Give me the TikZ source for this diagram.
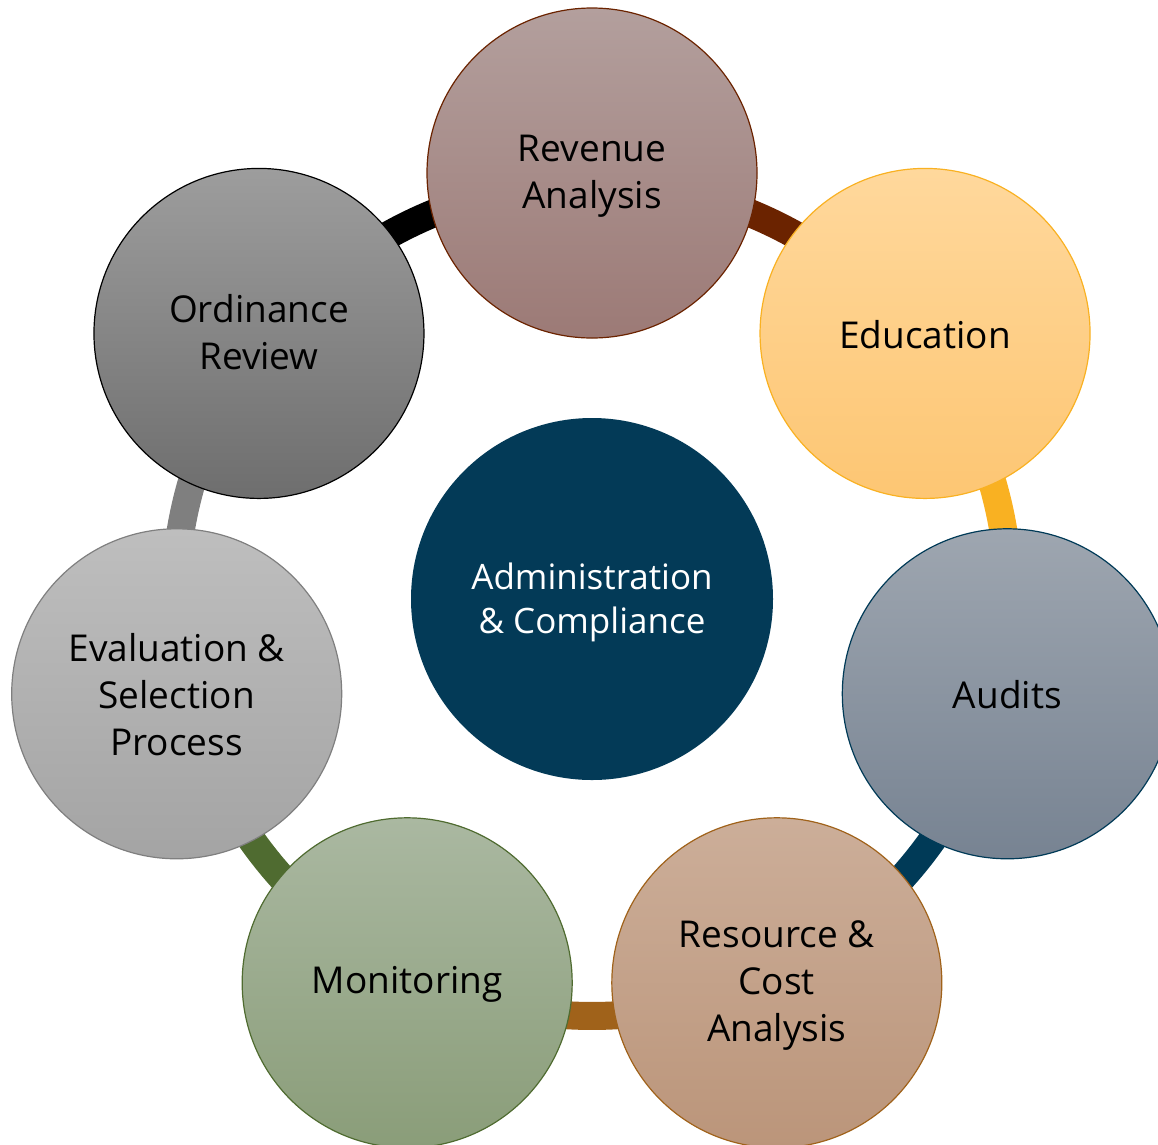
\documentclass[tikz,border=0pt]{standalone}
\usepackage{fontspec}
\setmainfont{Open Sans}
\usetikzlibrary{calc}
\definecolor{cRevA}{HTML}{B39F9D}\definecolor{cRevB}{HTML}{9C7A76}\definecolor{cRevL}{HTML}{6B2300}
\definecolor{cEduA}{HTML}{FFD89C}\definecolor{cEduB}{HTML}{FDC673}\definecolor{cEduL}{HTML}{F9B122}
\definecolor{cAudA}{HTML}{9EA6B0}\definecolor{cAudB}{HTML}{778392}\definecolor{cAudL}{HTML}{003A57}
\definecolor{cResA}{HTML}{CCAE99}\definecolor{cResB}{HTML}{BB957A}\definecolor{cResL}{HTML}{A0621A}
\definecolor{cMonA}{HTML}{AAB8A1}\definecolor{cMonB}{HTML}{8A9D79}\definecolor{cMonL}{HTML}{4F6B30}
\definecolor{cEvaA}{HTML}{BEBEBE}\definecolor{cEvaB}{HTML}{A4A4A4}\definecolor{cEvaL}{HTML}{7F7F7F}
\definecolor{cOrdA}{HTML}{9D9D9D}\definecolor{cOrdB}{HTML}{6E6E6E}\definecolor{cOrdL}{HTML}{000000}
\definecolor{cCenter}{HTML}{033A57}
\begin{document}
\begin{tikzpicture}[x=1pt,y=1pt,
  bubble/.style={circle,minimum size=330pt,inner sep=0pt,line width=1.2pt},
  btext/.style={align=center,text=black,inner sep=0pt,yshift=-1pt,
    font=\fontsize{37}{47}\selectfont},
  ringseg/.style={line width=28pt},
  hub/.style={circle,minimum size=362pt,inner sep=0pt,fill=cCenter},
  hubtext/.style={align=center,text=white,inner sep=0pt,yshift=-3pt,
    font=\fontsize{35}{44}\selectfont}]
\useasboundingbox (0,0) rectangle (1158,-1144);
\clip (0,0) rectangle (1158,-1144);
\coordinate (ctr) at (592,-599);
% ring anchor coordinates
\coordinate (r1) at ([shift={(90:417)}]ctr);
\coordinate (r2) at ([shift={(38.571:417)}]ctr);
\coordinate (r3) at ([shift={(-12.857:417)}]ctr);
\coordinate (r4) at ([shift={(-64.286:417)}]ctr);
\coordinate (r5) at ([shift={(-115.714:417)}]ctr);
\coordinate (r6) at ([shift={(-167.143:417)}]ctr);
\coordinate (r7) at ([shift={(141.429:417)}]ctr);
% ring segments
\draw[ringseg,cRevL] (r1) arc[start angle=90,end angle=38.571,radius=417];
\draw[ringseg,cEduL] (r2) arc[start angle=38.571,end angle=-12.857,radius=417];
\draw[ringseg,cAudL] (r3) arc[start angle=-12.857,end angle=-64.286,radius=417];
\draw[ringseg,cResL] (r4) arc[start angle=-64.286,end angle=-115.714,radius=417];
\draw[ringseg,cMonL] (r5) arc[start angle=-115.714,end angle=-167.143,radius=417];
\draw[ringseg,cEvaL] (r6) arc[start angle=-167.143,end angle=-218.571,radius=417];
\draw[ringseg,cOrdL] (r7) arc[start angle=141.429,end angle=90,radius=417];
% outer bubbles
\node[bubble,draw=cRevL,top color=cRevA,bottom color=cRevB] (rev) at ([shift={(90:426)}]ctr) {};
\node[bubble,draw=cEduL,top color=cEduA,bottom color=cEduB] (edu) at ([shift={(38.571:426)}]ctr) {};
\node[bubble,draw=cAudL,top color=cAudA,bottom color=cAudB] (aud) at ([shift={(-12.857:426)}]ctr) {};
\node[bubble,draw=cResL,top color=cResA,bottom color=cResB] (res) at ([shift={(-64.286:426)}]ctr) {};
\node[bubble,draw=cMonL,top color=cMonA,bottom color=cMonB] (mon) at ([shift={(-115.714:426)}]ctr) {};
\node[bubble,draw=cEvaL,top color=cEvaA,bottom color=cEvaB] (eva) at ([shift={(-167.143:426)}]ctr) {};
\node[bubble,draw=cOrdL,top color=cOrdA,bottom color=cOrdB] (ord) at ([shift={(141.429:426)}]ctr) {};
% bubble texts
\node[btext,yshift=-2pt] (revt) at (rev) {Revenue\\Analysis};
\node[btext] (edut) at (edu) {Education};
\node[btext] (audt) at (aud) {Audits};
\node[btext,yshift=-2pt] (rest) at (res) {Resource \&\\Cost\\Analysis};
\node[btext,yshift=-1pt] (mont) at (mon) {Monitoring};
\node[btext] (evat) at (eva) {Evaluation \&\\Selection\\Process};
\node[btext,yshift=2pt] (ordt) at (ord) {Ordinance\\Review};
% hub
\node[hub] (hubnode) at (ctr) {};
\node[hubtext] (hubt) at (hubnode) {Administration\\\& Compliance};
\end{tikzpicture}
\end{document}
